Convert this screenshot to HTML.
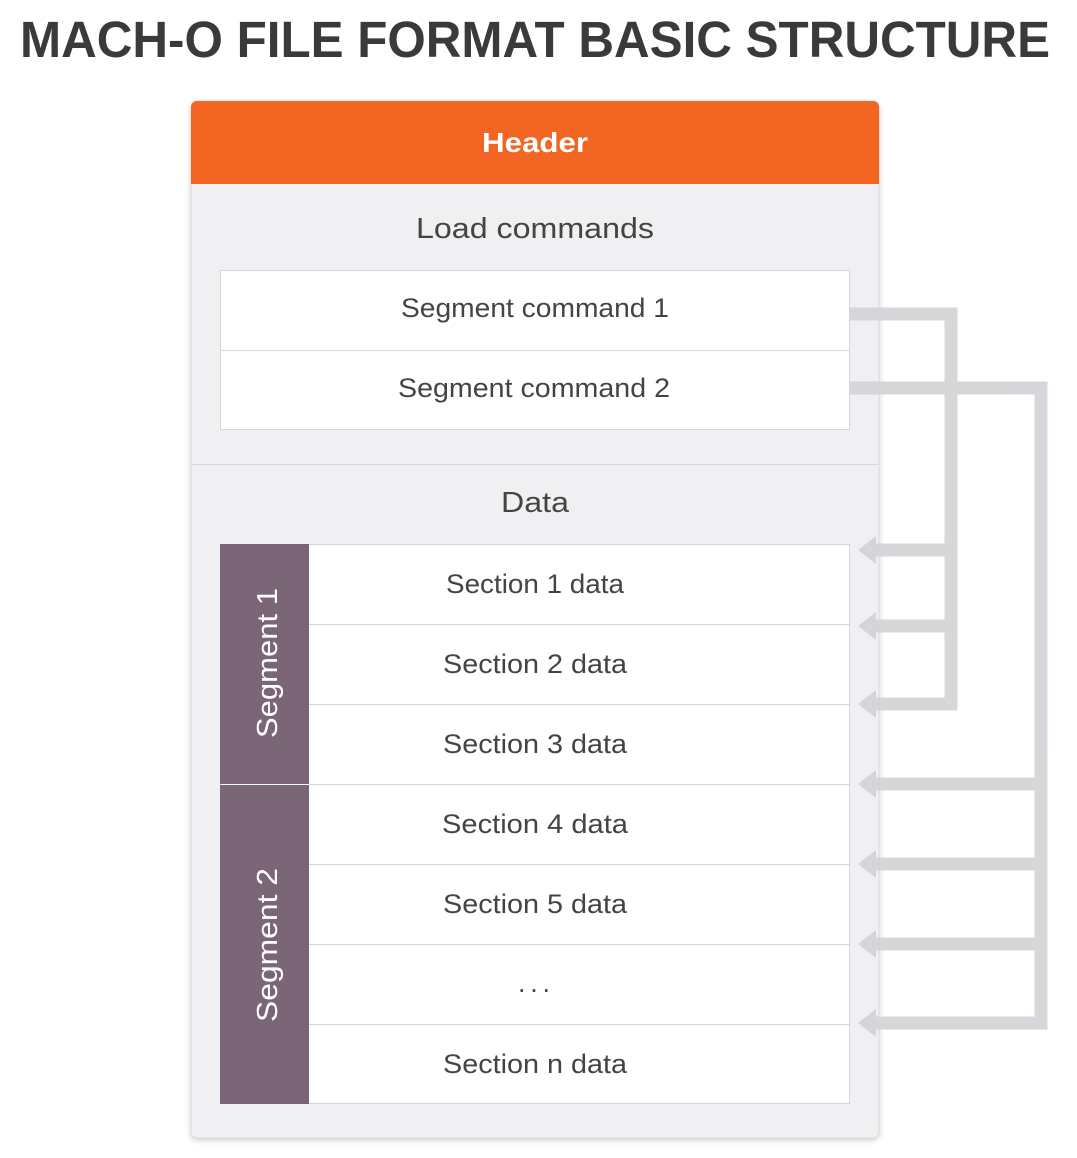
<!DOCTYPE html>
<html><head><meta charset="utf-8"><style>
html,body{margin:0;padding:0;background:#fff;width:1077px;height:1158px;overflow:hidden}
</style></head><body>
<svg width="1077" height="1158" viewBox="0 0 1077 1158" xmlns="http://www.w3.org/2000/svg" font-family="Liberation Sans, sans-serif">
<defs>
<filter id="sh" x="-5%" y="-5%" width="110%" height="110%"><feDropShadow dx="0" dy="2" stdDeviation="3" flood-color="#000" flood-opacity="0.18"/></filter>
</defs>
<text x="20" y="57" font-size="51" font-weight="bold" fill="#3a3a3a" textLength="1030" lengthAdjust="spacingAndGlyphs">MACH-O FILE FORMAT BASIC STRUCTURE</text>
<rect x="191" y="101" width="688" height="1037" rx="6" fill="#f0eff1" stroke="#dcdadd" filter="url(#sh)"/>
<path d="M191 184 V107 a6 6 0 0 1 6 -6 H873 a6 6 0 0 1 6 6 V184 Z" fill="#f26522"/>
<text x="482" y="152" font-size="28" font-weight="bold" fill="#fff" textLength="106" lengthAdjust="spacingAndGlyphs">Header</text>
<text x="416" y="238" font-size="29" fill="#444" textLength="238" lengthAdjust="spacingAndGlyphs">Load commands</text>
<rect x="220.5" y="270.5" width="629" height="159" fill="#fff" stroke="#d8d6da"/>
<line x1="220" y1="350.5" x2="850" y2="350.5" stroke="#d8d6da"/>
<text x="401" y="317" font-size="27" fill="#444" textLength="268" lengthAdjust="spacingAndGlyphs">Segment command 1</text>
<text x="398" y="397" font-size="27" fill="#444" textLength="272" lengthAdjust="spacingAndGlyphs">Segment command 2</text>
<line x1="191" y1="464.5" x2="879" y2="464.5" stroke="#d8d6da"/>
<text x="501" y="512" font-size="29" fill="#444" textLength="68" lengthAdjust="spacingAndGlyphs">Data</text>
<rect x="220.5" y="544.5" width="629" height="559" fill="#fff" stroke="#d8d6da"/>
<g stroke="#d8d6da">
<line x1="309" y1="624.5" x2="850" y2="624.5"/>
<line x1="309" y1="704.5" x2="850" y2="704.5"/>
<line x1="309" y1="784.5" x2="850" y2="784.5"/>
<line x1="309" y1="864.5" x2="850" y2="864.5"/>
<line x1="309" y1="944.5" x2="850" y2="944.5"/>
<line x1="309" y1="1024.5" x2="850" y2="1024.5"/>
</g>
<rect x="220" y="544" width="89" height="240" fill="#7b6677"/>
<rect x="220" y="785" width="89" height="319" fill="#7b6677"/>
<text transform="translate(277,738) rotate(-90)" font-size="29" fill="#fff" textLength="150" lengthAdjust="spacingAndGlyphs">Segment 1</text>
<text transform="translate(277,1022) rotate(-90)" font-size="29" fill="#fff" textLength="154" lengthAdjust="spacingAndGlyphs">Segment 2</text>
<g font-size="27" fill="#444">
<text x="446" y="593" textLength="178" lengthAdjust="spacingAndGlyphs">Section 1 data</text>
<text x="443" y="673" textLength="184" lengthAdjust="spacingAndGlyphs">Section 2 data</text>
<text x="443" y="753" textLength="184" lengthAdjust="spacingAndGlyphs">Section 3 data</text>
<text x="442" y="833" textLength="186" lengthAdjust="spacingAndGlyphs">Section 4 data</text>
<text x="443" y="913" textLength="184" lengthAdjust="spacingAndGlyphs">Section 5 data</text>
<text x="518" y="992" textLength="32" lengthAdjust="spacing">...</text>
<text x="443" y="1073" textLength="184" lengthAdjust="spacingAndGlyphs">Section n data</text>
</g>
<g fill="none" stroke="#d6d4d8" stroke-width="13" opacity="0.95">
<polyline points="850,314 951,314 951,704 872,704"/>
<line x1="951" y1="550" x2="872" y2="550"/>
<line x1="951" y1="626" x2="872" y2="626"/>
<polyline points="850,388 1041,388 1041,1023 872,1023"/>
<line x1="1041" y1="784" x2="872" y2="784"/>
<line x1="1041" y1="864" x2="872" y2="864"/>
<line x1="1041" y1="944" x2="872" y2="944"/>
</g>
<g fill="#d6d4d8">
<polygon points="858,550 876,536 876,564"/>
<polygon points="858,626 876,612 876,640"/>
<polygon points="858,704 876,690 876,718"/>
<polygon points="858,784 876,770 876,798"/>
<polygon points="858,864 876,850 876,878"/>
<polygon points="858,944 876,930 876,958"/>
<polygon points="858,1023 876,1009 876,1037"/>
</g>
</svg>
</body></html>
